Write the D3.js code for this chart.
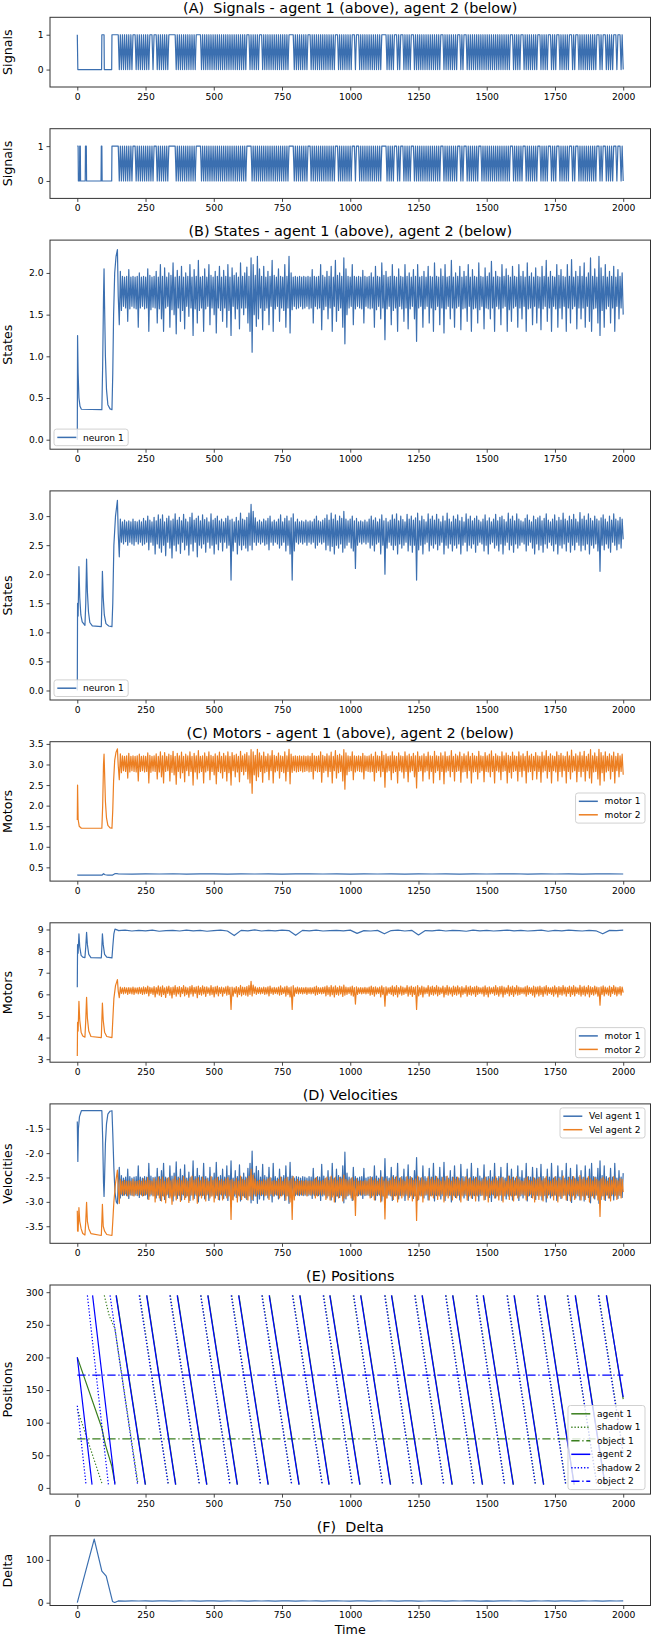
<!DOCTYPE html>
<html>
<head>
<meta charset="utf-8">
<script src="https://cdn.jsdelivr.net/npm/d3@7"></script>
<style>
  body { margin: 0; background: #fff; }
  text { font-family: "DejaVu Sans", sans-serif; fill: #000; }
</style>
</head>
<body>
<svg id="chart" width="651" height="1637"></svg>
<script>
// ---- data (time steps 0..2000) ----
// early transients as [t, value]; dense parts as values sampled evenly from t=150 to t=2000
const TAIL_START = 150, TAIL_END = 2000;
const timeTicks = [0, 250, 500, 750, 1000, 1250, 1500, 1750, 2000];

const sig1Head = [[0,1],[2,0],[89,0],[90,1],[98,1],[99,0],[126,0],[127,1],[150,1]];
const sig1Tail = [
 1,0,1,0,1,0,1,0,1,0,1,0,1,0,1,1,1,0,1,0,
 1,0,1,0,1,0,1,0,1,0,1,1,1,0,1,1,1,0,1,0,
 1,0,1,0,1,0,1,0,1,1,1,1,1,1,1,0,1,0,1,0,
 1,0,1,0,1,0,1,0,1,0,1,0,1,0,1,1,1,1,1,0,
 1,0,1,0,1,0,1,0,1,0,1,0,1,0,1,0,1,0,1,0,
 1,0,1,0,1,0,1,0,1,0,1,0,1,0,1,0,1,0,1,0,
 1,0,1,1,1,0,1,0,1,0,1,0,1,0,1,1,1,0,1,0,
 1,0,1,0,1,0,1,0,1,0,1,0,1,0,1,0,1,0,1,0,
 1,0,1,1,1,1,1,0,1,0,1,0,1,0,1,0,1,0,1,0,
 1,1,1,0,1,0,1,0,1,0,1,0,1,0,1,0,1,0,1,0,
 1,0,1,0,1,0,1,1,1,0,1,0,1,0,1,0,1,0,1,0,
 1,0,1,1,1,0,1,1,1,0,1,0,1,0,1,0,1,0,1,0,
 1,0,1,0,1,0,1,0,1,0,1,1,1,1,1,0,1,0,1,0,
 1,0,1,1,1,0,1,0,1,1,1,0,1,0,1,0,1,0,1,1,
 1,0,1,0,1,0,1,0,1,0,1,0,1,0,1,0,1,0,1,0,
 1,0,1,0,1,0,1,1,1,0,1,0,1,0,1,0,1,0,1,0,
 1,0,1,1,1,0,1,0,1,1,1,0,1,0,1,0,1,0,1,0,
 1,0,1,0,1,0,1,0,1,0,1,0,1,0,1,0,1,0,1,0,
 1,0,1,0,1,0,1,0,1,0,1,0,1,1,1,0,1,0,1,0,
 1,0,1,1,1,0,1,0,1,0,1,0,1,0,1,0,1,0,1,1,
 1,0,1,0,1,0,1,0,1,1,1,0,1,0,1,0,1,1,1,0,
 1,0,1,0,1,0,1,0,1,1,1,0,1,0,1,1,1,0,1,0,
 1,0,1,0,1,0,1,0,1,0,1,0,1,0,1,1,1,0,1,0,
 1,1,1,0,1,0,1,0,1,0,1,1,1,0,1,1,1,0,1,0];

const sig2Head = [[0,1],[3,1],[4,0],[8,0],[9,1],[11,1],[12,0],[29,0],[30,1],[33,1],[34,0],
 [87,0],[88,1],[90,1],[91,0],[126,0],[127,1],[150,1]];
const sig2Tail = [
 1,0,1,0,1,0,1,0,1,0,1,0,1,0,1,1,1,0,1,0,
 1,0,1,0,1,0,1,0,1,0,1,0,1,0,1,1,1,0,1,0,
 1,0,1,0,1,0,1,0,1,1,1,1,1,1,1,0,1,0,1,0,
 1,0,1,0,1,0,1,0,1,0,1,0,1,0,1,1,1,1,1,0,
 1,0,1,0,1,0,1,0,1,0,1,0,1,0,1,0,1,0,1,0,
 1,0,1,0,1,0,1,0,1,0,1,0,1,0,1,0,1,0,1,0,
 1,0,1,1,1,1,1,0,1,0,1,0,1,0,1,0,1,0,1,0,
 1,0,1,0,1,0,1,0,1,0,1,0,1,0,1,0,1,0,1,0,
 1,0,1,1,1,1,1,0,1,0,1,0,1,0,1,0,1,0,1,0,
 1,1,1,0,1,0,1,0,1,0,1,0,1,0,1,0,1,0,1,0,
 1,0,1,0,1,0,1,1,1,0,1,0,1,0,1,0,1,0,1,0,
 1,0,1,1,1,0,1,1,1,0,1,0,1,0,1,0,1,0,1,0,
 1,0,1,0,1,0,1,0,1,0,1,1,1,1,1,0,1,0,1,0,
 1,0,1,1,1,0,1,0,1,1,1,0,1,0,1,0,1,0,1,1,
 1,0,1,0,1,0,1,0,1,0,1,0,1,0,1,0,1,0,1,0,
 1,0,1,0,1,0,1,1,1,0,1,0,1,0,1,0,1,0,1,0,
 1,0,1,1,1,0,1,0,1,1,1,0,1,0,1,0,1,0,1,0,
 1,0,1,1,1,0,1,0,1,0,1,0,1,0,1,0,1,0,1,0,
 1,0,1,0,1,0,1,0,1,0,1,0,1,1,1,0,1,0,1,0,
 1,0,1,0,1,1,1,0,1,0,1,0,1,0,1,0,1,0,1,1,
 1,0,1,0,1,0,1,0,1,1,1,0,1,0,1,0,1,1,1,0,
 1,0,1,0,1,0,1,0,1,1,1,0,1,0,1,1,1,0,1,0,
 1,0,1,0,1,0,1,0,1,0,1,0,1,0,1,1,1,0,1,0,
 1,1,1,0,1,0,1,0,1,0,1,1,1,0,1,1,1,0,1,0];

const state1Head = [[0,0],[1,1.25],[3,0.8],[6,0.5],[10,0.4],[15,0.365],[90,0.36],[93,0.9],[96,1.7],
 [98,2.05],[100,1.6],[103,1.0],[107,0.6],[112,0.42],[120,0.37],[127,0.36],[130,0.8],[133,1.5],
 [137,2.0],[142,2.2],[147,2.28]];
const state1Tail = [
 1.72,1.38,2.02,1.55,1.96,1.6,1.95,1.58,1.96,1.42,2.04,1.57,1.95,1.6,1.96,1.58,1.95,1.57,1.96,1.35,
 2.0,1.58,1.95,1.6,1.96,1.57,1.95,1.58,2.05,1.3,1.97,1.56,1.95,1.59,1.96,1.58,2.02,1.4,1.95,1.57,
 2.1,1.45,1.96,1.3,2.06,1.58,1.95,1.6,2.0,1.35,1.97,1.56,2.12,1.5,1.95,1.27,2.03,1.58,1.96,1.42,
 2.08,1.55,1.95,1.33,2.0,1.6,1.96,1.48,2.1,1.58,1.95,1.25,2.04,1.57,1.96,1.4,2.15,1.55,1.95,1.58,
 1.96,1.3,2.05,1.57,1.95,1.6,2.1,1.38,1.97,1.58,1.95,1.5,2.02,1.28,1.96,1.58,2.08,1.55,1.95,1.42,
 2.03,1.58,1.96,1.35,2.1,1.55,1.95,1.25,2.06,1.6,1.97,1.45,2.0,1.57,1.95,1.33,2.12,1.58,1.96,1.5,
 2.0,1.58,2.07,1.4,1.96,1.3,2.18,1.05,2.1,1.5,1.97,1.36,2.2,1.45,2.05,1.58,1.96,1.32,2.08,1.55,
 1.95,1.58,2.02,1.38,1.96,1.6,2.15,1.3,1.97,1.57,1.95,1.6,2.05,1.42,1.96,1.58,1.95,1.55,2.1,1.35,
 1.96,1.58,2.2,1.28,2.0,1.56,1.95,1.6,1.96,1.57,1.95,1.58,1.96,1.6,1.95,1.57,1.96,1.58,1.95,1.6,
 1.96,1.57,1.95,1.58,2.04,1.4,1.96,1.6,1.95,1.57,1.96,1.58,2.1,1.32,1.97,1.56,1.95,1.6,2.02,1.45,
 1.96,1.58,2.08,1.3,1.95,1.6,2.15,1.42,1.97,1.55,2.0,1.58,1.96,1.35,2.18,1.15,2.05,1.5,1.96,1.58,
 1.95,1.6,2.1,1.38,1.96,1.57,1.95,1.6,1.96,1.58,1.95,1.57,2.03,1.4,1.96,1.6,1.95,1.58,1.96,1.57,
 2.0,1.58,1.95,1.35,2.08,1.56,1.96,1.6,1.95,1.45,2.12,1.58,1.97,1.2,2.02,1.57,1.95,1.6,1.96,1.38,
 2.1,1.55,1.96,1.58,1.95,1.3,2.05,1.6,1.96,1.57,1.95,1.42,2.1,1.58,1.96,1.33,2.0,1.57,1.95,1.6,
 2.04,1.45,1.96,1.18,2.1,1.58,1.95,1.6,1.96,1.35,2.02,1.57,1.95,1.6,2.08,1.4,1.96,1.58,1.95,1.3,
 2.12,1.56,1.96,1.6,1.95,1.38,2.05,1.58,1.96,1.28,2.1,1.57,1.95,1.6,1.96,1.45,2.15,1.58,1.95,1.35,
 2.0,1.58,1.96,1.6,2.08,1.32,1.95,1.57,2.02,1.58,1.96,1.42,2.1,1.6,1.95,1.3,2.04,1.57,1.96,1.58,
 1.95,1.4,2.12,1.56,1.96,1.6,1.95,1.33,2.06,1.58,1.96,1.57,2.0,1.45,2.14,1.58,1.95,1.3,2.02,1.6,
 1.96,1.57,1.95,1.38,2.1,1.58,1.96,1.6,2.05,1.3,1.97,1.56,1.95,1.42,2.08,1.58,1.96,1.6,1.95,1.35,
 2.1,1.58,1.96,1.45,2.02,1.6,1.95,1.3,2.12,1.57,1.96,1.58,2.0,1.38,1.95,1.6,2.06,1.4,1.96,1.58,
 1.95,1.32,2.08,1.57,1.96,1.6,2.15,1.42,1.95,1.58,2.02,1.3,1.96,1.6,1.95,1.57,2.1,1.35,1.97,1.58,
 2.04,1.45,1.96,1.6,1.95,1.3,2.1,1.58,1.96,1.4,2.16,1.57,1.95,1.6,2.02,1.33,1.96,1.58,2.08,1.45,
 1.96,1.58,2.12,1.35,1.95,1.6,2.0,1.42,2.18,1.3,1.96,1.57,2.05,1.58,1.95,1.4,2.2,1.25,2.06,1.55,
 1.96,1.35,2.1,1.57,1.95,1.6,2.02,1.4,1.96,1.58,2.08,1.3,1.95,1.6,2.04,1.45,1.96,1.58,2.0,1.5];

const state2Head = [[0,0],[1,1.5],[3,1.28],[6,2.13],[9,1.6],[13,1.3],[18,1.18],[28,1.12],[31,1.5],
 [34,2.26],[37,1.7],[41,1.35],[46,1.17],[55,1.11],[88,1.1],[90,1.5],[92,2.05],[95,1.6],[99,1.3],
 [105,1.15],[115,1.11],[127,1.1],[130,1.5],[134,2.5],[140,3.0],[147,3.27]];
const state2Tail = [
 2.7,2.3,2.95,2.55,2.9,2.52,2.93,2.56,2.9,2.5,2.92,2.55,2.9,2.52,2.95,2.5,2.91,2.56,2.9,2.52,
 2.93,2.55,2.9,2.5,2.96,2.52,2.92,2.55,3.0,2.42,2.93,2.55,2.9,2.5,2.98,2.35,2.92,2.52,3.02,2.45,
 2.95,2.38,3.02,2.5,2.9,2.32,2.96,2.55,3.0,2.45,2.92,2.28,2.95,2.5,3.04,2.4,2.93,2.52,2.98,2.36,
 2.92,2.55,3.03,2.42,2.95,2.5,2.9,2.33,2.98,2.52,3.05,2.4,2.93,2.55,2.96,2.3,3.0,2.5,2.92,2.45,
 3.02,2.52,2.94,2.38,2.97,2.55,2.9,2.45,3.04,2.5,2.93,2.35,2.96,2.52,3.0,2.42,2.92,2.55,2.95,2.4,
 2.9,2.55,2.96,2.45,3.0,2.5,2.93,1.9,2.95,2.4,2.9,2.55,2.98,2.35,2.92,2.5,3.05,2.42,2.95,2.5,
 2.93,2.45,2.98,2.4,3.05,2.5,3.2,2.42,3.08,2.55,2.97,2.5,2.9,2.55,2.93,2.52,2.9,2.55,2.95,2.5,
 2.92,2.52,2.96,2.42,3.0,2.55,2.9,2.5,2.93,2.55,2.9,2.52,2.95,2.45,3.02,2.5,2.9,2.55,2.96,2.4,
 3.0,2.5,2.92,2.35,2.97,1.9,3.04,2.4,2.9,2.55,2.95,2.52,2.9,2.55,2.92,2.52,2.9,2.55,2.93,2.5,
 2.9,2.55,2.92,2.52,2.9,2.55,2.95,2.45,3.0,2.5,2.92,2.55,2.9,2.52,2.93,2.55,2.96,2.42,3.02,2.5,
 2.93,2.4,3.05,2.48,2.95,2.35,3.02,2.5,2.92,2.45,3.0,2.52,2.96,2.38,3.08,2.45,2.95,2.5,2.92,2.55,
 2.95,2.45,3.0,2.4,2.92,2.1,2.96,2.5,2.9,2.55,2.92,2.52,2.9,2.55,2.93,2.52,2.9,2.55,2.95,2.45,
 3.0,2.5,2.93,2.4,2.97,2.52,2.9,2.55,2.95,2.35,3.02,2.5,2.92,2.0,2.96,2.45,2.9,2.55,2.93,2.5,
 3.02,2.42,2.95,2.5,3.04,2.35,2.92,2.52,3.0,2.45,2.94,2.5,2.9,2.55,3.03,2.4,2.95,2.5,3.0,2.38,
 2.93,2.5,2.97,1.9,3.05,2.42,2.92,2.5,3.0,2.35,2.94,2.52,2.9,2.55,3.04,2.4,2.95,2.5,3.0,2.45,
 2.93,2.52,3.03,2.42,2.95,2.5,2.9,2.55,3.0,2.35,2.92,2.5,3.05,2.45,2.95,2.52,2.9,2.4,3.0,2.5,
 2.95,2.45,3.02,2.52,2.92,2.35,2.98,2.5,2.9,2.55,3.04,2.4,2.95,2.5,3.0,2.45,2.92,2.52,2.96,2.38,
 3.0,2.5,2.93,2.55,2.9,2.52,2.95,2.4,3.02,2.5,2.92,2.35,2.97,2.52,2.9,2.55,2.95,2.45,3.03,2.5,
 2.92,2.4,2.98,2.52,3.0,2.35,2.94,2.5,2.9,2.55,3.05,2.42,2.95,2.5,3.0,2.38,2.92,2.52,3.04,2.45,
 2.95,2.5,2.92,2.55,2.9,2.52,2.96,2.4,3.02,2.5,2.93,2.55,2.9,2.45,3.0,2.35,2.94,2.52,2.97,2.42,
 3.0,2.5,2.92,2.38,2.96,2.52,3.04,2.45,2.93,2.55,2.9,2.5,2.95,2.4,3.02,2.52,2.92,2.35,2.98,2.5,
 2.93,2.45,3.05,2.52,2.95,2.4,2.92,2.55,3.0,2.38,2.94,2.5,3.03,2.42,2.95,2.55,2.9,2.5,3.06,2.4,
 2.95,2.5,3.0,2.42,2.93,2.52,3.04,2.35,2.96,2.5,2.92,2.45,3.0,2.52,2.95,2.4,2.92,2.05,2.97,2.5,
 3.02,2.42,2.95,2.52,2.9,2.45,3.0,2.38,2.93,2.55,3.04,2.5,2.95,2.42,2.92,2.52,2.98,2.45,2.95,2.6];

// agent 1 motors
const motor11Head = [[0,0.32],[3,0.31],[90,0.31],[96,0.345],[102,0.32],[112,0.31],[128,0.31],
 [136,0.34],[142,0.35],[150,0.34]];
const motor11Tail = [
 0.34,0.335,0.342,0.338,0.345,0.336,0.34,0.343,0.337,0.341,0.339,0.344,0.336,0.34,0.342,0.338,0.341,0.335,0.343,0.339,
 0.34,0.337,0.344,0.338,0.341,0.336,0.342,0.339,0.34,0.345,0.337,0.341,0.338,0.343,0.336,0.34,0.342,0.339];
const motor12Head = [[0,1.65],[1,2.5],[3,1.67],[7,1.5],[15,1.45],[90,1.45],[93,2.0],[96,3.0],[98,3.25],
 [100,2.8],[103,2.1],[107,1.7],[112,1.52],[120,1.46],[127,1.45],[130,1.9],[133,2.6],[137,3.1],
 [142,3.3],[147,3.38]];
const motor12Tail = [
 2.97,2.63,3.26,2.8,3.21,2.85,3.2,2.83,3.21,2.67,3.27,2.82,3.2,2.85,3.21,2.83,3.2,2.82,3.21,2.6,
 3.25,2.83,3.2,2.85,3.21,2.82,3.2,2.83,3.28,2.55,3.22,2.81,3.2,2.84,3.21,2.83,3.26,2.65,3.2,2.82,
 3.31,2.7,3.21,2.55,3.29,2.83,3.2,2.85,3.25,2.6,3.22,2.81,3.32,2.75,3.2,2.52,3.27,2.83,3.21,2.67,
 3.3,2.8,3.2,2.58,3.25,2.85,3.21,2.73,3.31,2.83,3.2,2.5,3.27,2.82,3.21,2.65,3.34,2.8,3.2,2.83,
 3.21,2.55,3.28,2.82,3.2,2.85,3.31,2.63,3.22,2.83,3.2,2.75,3.26,2.53,3.21,2.83,3.3,2.8,3.2,2.67,
 3.27,2.83,3.21,2.6,3.31,2.8,3.2,2.5,3.29,2.85,3.22,2.7,3.25,2.82,3.2,2.58,3.32,2.83,3.21,2.75,
 3.25,2.83,3.29,2.65,3.21,2.55,3.36,2.3,3.31,2.75,3.22,2.61,3.37,2.7,3.28,2.83,3.21,2.57,3.3,2.8,
 3.2,2.83,3.26,2.63,3.21,2.85,3.34,2.55,3.22,2.82,3.2,2.85,3.28,2.67,3.21,2.83,3.2,2.8,3.31,2.6,
 3.21,2.83,3.37,2.53,3.25,2.81,3.2,2.85,3.21,2.82,3.2,2.83,3.21,2.85,3.2,2.82,3.21,2.83,3.2,2.85,
 3.21,2.82,3.2,2.83,3.27,2.65,3.21,2.85,3.2,2.82,3.21,2.83,3.31,2.57,3.22,2.81,3.2,2.85,3.26,2.7,
 3.21,2.83,3.3,2.55,3.2,2.85,3.34,2.67,3.22,2.8,3.25,2.83,3.21,2.6,3.36,2.4,3.28,2.75,3.21,2.83,
 3.2,2.85,3.31,2.63,3.21,2.82,3.2,2.85,3.21,2.83,3.2,2.82,3.27,2.65,3.21,2.85,3.2,2.83,3.21,2.82,
 3.25,2.83,3.2,2.6,3.3,2.81,3.21,2.85,3.2,2.7,3.32,2.83,3.22,2.45,3.26,2.82,3.2,2.85,3.21,2.63,
 3.31,2.8,3.21,2.83,3.2,2.55,3.28,2.85,3.21,2.82,3.2,2.67,3.31,2.83,3.21,2.58,3.25,2.82,3.2,2.85,
 3.27,2.7,3.21,2.43,3.31,2.83,3.2,2.85,3.21,2.6,3.26,2.82,3.2,2.85,3.3,2.65,3.21,2.83,3.2,2.55,
 3.32,2.81,3.21,2.85,3.2,2.63,3.28,2.83,3.21,2.53,3.31,2.82,3.2,2.85,3.21,2.7,3.34,2.83,3.2,2.6,
 3.25,2.83,3.21,2.85,3.3,2.57,3.2,2.82,3.26,2.83,3.21,2.67,3.31,2.85,3.2,2.55,3.27,2.82,3.21,2.83,
 3.2,2.65,3.32,2.81,3.21,2.85,3.2,2.58,3.29,2.83,3.21,2.82,3.25,2.7,3.33,2.83,3.2,2.55,3.26,2.85,
 3.21,2.82,3.2,2.63,3.31,2.83,3.21,2.85,3.28,2.55,3.22,2.81,3.2,2.67,3.3,2.83,3.21,2.85,3.2,2.6,
 3.31,2.83,3.21,2.7,3.26,2.85,3.2,2.55,3.32,2.82,3.21,2.83,3.25,2.63,3.2,2.85,3.29,2.65,3.21,2.83,
 3.2,2.57,3.3,2.82,3.21,2.85,3.34,2.67,3.2,2.83,3.26,2.55,3.21,2.85,3.2,2.82,3.31,2.6,3.22,2.83,
 3.27,2.7,3.21,2.85,3.2,2.55,3.31,2.83,3.21,2.65,3.35,2.82,3.2,2.85,3.26,2.58,3.21,2.83,3.3,2.7,
 3.21,2.83,3.32,2.6,3.2,2.85,3.25,2.67,3.36,2.55,3.21,2.82,3.28,2.83,3.2,2.65,3.37,2.5,3.29,2.8,
 3.21,2.6,3.31,2.82,3.2,2.85,3.26,2.65,3.21,2.83,3.3,2.55,3.2,2.85,3.27,2.7,3.21,2.83,3.25,2.75];

// agent 2 motors
const motor21Head = [[0,6.33],[1,8.3],[3,7.9],[6,8.8],[9,8.2],[14,7.8],[20,7.72],[28,7.7],[31,8.2],
 [34,8.87],[37,8.3],[42,7.85],[50,7.7],[88,7.69],[90,8.2],[92,8.8],[95,8.3],[100,7.85],[108,7.72],
 [127,7.69],[130,8.2],[134,8.8],[138,9.02],[150,8.96]];
const motor21Tail = [
 8.95,8.97,8.93,8.96,8.94,8.97,8.92,8.95,8.96,8.93,8.97,8.94,8.96,8.92,8.95,8.97,8.93,8.72,8.96,8.94,
 8.98,8.93,8.96,8.94,8.97,8.95,8.73,8.96,8.94,8.97,8.93,8.95,8.96,8.94,8.97,8.82,8.95,8.93,8.96,8.8,
 8.95,8.97,8.93,8.96,8.75,8.95,8.94,8.97,8.93,8.96,8.95,8.92,8.97,8.94,8.96,8.93,8.95,8.97,8.94,8.96,
 8.93,8.95,8.97,8.92,8.96,8.94,8.97,8.95,8.93,8.96,8.94,8.8,8.96,8.95,8.97];
const motor22Head = [[0,3.15],[1,4.7],[3,4.3],[6,5.68],[9,4.8],[14,4.25],[20,4.07],[28,4.02],[31,4.8],
 [34,5.86],[37,4.9],[42,4.3],[50,4.05],[88,4.0],[90,4.8],[92,5.6],[95,4.8],[100,4.25],[108,4.05],
 [127,4.0],[130,4.8],[134,5.8],[140,6.4],[147,6.68]];
const motor22Tail = [
 6.15,5.85,6.34,6.04,6.3,6.02,6.32,6.05,6.3,6.0,6.31,6.04,6.3,6.02,6.34,6.0,6.3,6.05,6.3,6.02,
 6.32,6.04,6.3,6.0,6.35,6.02,6.31,6.04,6.38,5.93,6.32,6.04,6.3,6.0,6.36,5.88,6.31,6.02,6.39,5.96,
 6.34,5.9,6.39,6.0,6.3,5.86,6.35,6.04,6.38,5.96,6.31,5.83,6.34,6.0,6.4,5.92,6.32,6.02,6.36,5.89,
 6.31,6.04,6.4,5.93,6.34,6.0,6.3,5.87,6.36,6.02,6.41,5.92,6.32,6.04,6.35,5.85,6.38,6.0,6.31,5.96,
 6.39,6.02,6.33,5.9,6.35,6.04,6.3,5.96,6.4,6.0,6.32,5.88,6.35,6.02,6.38,5.93,6.31,6.04,6.34,5.92,
 6.3,6.04,6.35,5.96,6.38,6.0,6.32,5.3,6.34,5.92,6.3,6.04,6.36,5.88,6.31,6.0,6.41,5.93,6.34,6.0,
 6.32,5.96,6.36,5.92,6.41,6.0,6.6,5.93,6.43,6.04,6.35,6.0,6.3,6.04,6.32,6.02,6.3,6.04,6.34,6.0,
 6.31,6.02,6.35,5.93,6.38,6.04,6.3,6.0,6.32,6.04,6.3,6.02,6.34,5.96,6.39,6.0,6.3,6.04,6.35,5.92,
 6.38,6.0,6.31,5.88,6.35,5.3,6.4,5.92,6.3,6.04,6.34,6.02,6.3,6.04,6.31,6.02,6.3,6.04,6.32,6.0,
 6.3,6.04,6.31,6.02,6.3,6.04,6.34,5.96,6.38,6.0,6.31,6.04,6.3,6.02,6.32,6.04,6.35,5.93,6.39,6.0,
 6.32,5.92,6.41,5.98,6.34,5.88,6.39,6.0,6.31,5.96,6.38,6.02,6.35,5.9,6.43,5.96,6.34,6.0,6.31,6.04,
 6.34,5.96,6.38,5.92,6.31,5.55,6.35,6.0,6.3,6.04,6.31,6.02,6.3,6.04,6.32,6.02,6.3,6.04,6.34,5.96,
 6.38,6.0,6.32,5.92,6.35,6.02,6.3,6.04,6.34,5.88,6.39,6.0,6.31,5.45,6.35,5.96,6.3,6.04,6.32,6.0,
 6.39,5.93,6.34,6.0,6.4,5.88,6.31,6.02,6.38,5.96,6.33,6.0,6.3,6.04,6.4,5.92,6.34,6.0,6.38,5.9,
 6.32,6.0,6.35,5.3,6.41,5.93,6.31,6.0,6.38,5.88,6.33,6.02,6.3,6.04,6.4,5.92,6.34,6.0,6.38,5.96,
 6.32,6.02,6.4,5.93,6.34,6.0,6.3,6.04,6.38,5.88,6.31,6.0,6.41,5.96,6.34,6.02,6.3,5.92,6.38,6.0,
 6.34,5.96,6.39,6.02,6.31,5.88,6.36,6.0,6.3,6.04,6.4,5.92,6.34,6.0,6.38,5.96,6.31,6.02,6.35,5.9,
 6.38,6.0,6.32,6.04,6.3,6.02,6.34,5.92,6.39,6.0,6.31,5.88,6.35,6.02,6.3,6.04,6.34,5.96,6.4,6.0,
 6.31,5.92,6.36,6.02,6.38,5.88,6.33,6.0,6.3,6.04,6.41,5.93,6.34,6.0,6.38,5.9,6.31,6.02,6.4,5.96,
 6.34,6.0,6.31,6.04,6.3,6.02,6.35,5.92,6.39,6.0,6.32,6.04,6.3,5.96,6.38,5.88,6.33,6.02,6.35,5.93,
 6.38,6.0,6.31,5.9,6.35,6.02,6.4,5.96,6.32,6.04,6.3,6.0,6.34,5.92,6.39,6.02,6.31,5.88,6.36,6.0,
 6.32,5.96,6.41,6.02,6.34,5.92,6.31,6.04,6.38,5.9,6.33,6.0,6.4,5.93,6.34,6.04,6.3,6.0,6.42,5.92,
 6.34,6.0,6.38,5.93,6.32,6.02,6.4,5.88,6.35,6.0,6.31,5.96,6.38,6.02,6.34,5.92,6.31,5.5,6.35,6.0,
 6.39,5.93,6.34,6.02,6.3,5.96,6.38,5.9,6.32,6.04,6.4,6.0,6.34,5.93,6.31,6.02,6.36,5.96,6.34,6.08];

const vel1Head = [[0,-1.35],[2,-2.17],[4,-1.5],[8,-1.25],[15,-1.13],[90,-1.13],[93,-1.7],[96,-2.6],
 [98,-2.89],[100,-2.5],[103,-1.8],[107,-1.4],[112,-1.2],[120,-1.14],[127,-1.13],[130,-1.6],
 [134,-2.3],[138,-2.8],[143,-3.0],[147,-3.04]];
const vel1Tail = [
 -2.63,-2.29,-2.92,-2.46,-2.87,-2.51,-2.86,-2.49,-2.87,-2.33,-2.93,-2.48,-2.86,-2.51,-2.87,-2.49,-2.86,-2.48,-2.87,-2.26,
 -2.91,-2.49,-2.86,-2.51,-2.87,-2.48,-2.86,-2.49,-2.94,-2.21,-2.88,-2.47,-2.86,-2.5,-2.87,-2.49,-2.92,-2.31,-2.86,-2.48,
 -2.97,-2.36,-2.87,-2.21,-2.95,-2.49,-2.86,-2.51,-2.91,-2.26,-2.88,-2.47,-2.98,-2.41,-2.86,-2.18,-2.93,-2.49,-2.87,-2.33,
 -2.96,-2.46,-2.86,-2.24,-2.91,-2.51,-2.87,-2.39,-2.97,-2.49,-2.86,-2.16,-2.93,-2.48,-2.87,-2.31,-3.0,-2.46,-2.86,-2.49,
 -2.87,-2.21,-2.94,-2.48,-2.86,-2.51,-2.97,-2.29,-2.88,-2.49,-2.86,-2.41,-2.92,-2.19,-2.87,-2.49,-2.96,-2.46,-2.86,-2.33,
 -2.93,-2.49,-2.87,-2.26,-2.97,-2.46,-2.86,-2.16,-2.95,-2.51,-2.88,-2.36,-2.91,-2.48,-2.86,-2.24,-2.98,-2.49,-2.87,-2.41,
 -2.91,-2.49,-2.95,-2.31,-2.87,-2.21,-3.02,-1.96,-2.97,-2.41,-2.88,-2.27,-3.03,-2.36,-2.94,-2.49,-2.87,-2.23,-2.96,-2.46,
 -2.86,-2.49,-2.92,-2.29,-2.87,-2.51,-3.0,-2.21,-2.88,-2.48,-2.86,-2.51,-2.94,-2.33,-2.87,-2.49,-2.86,-2.46,-2.97,-2.26,
 -2.87,-2.49,-3.03,-2.19,-2.91,-2.47,-2.86,-2.51,-2.87,-2.48,-2.86,-2.49,-2.87,-2.51,-2.86,-2.48,-2.87,-2.49,-2.86,-2.51,
 -2.87,-2.48,-2.86,-2.49,-2.93,-2.31,-2.87,-2.51,-2.86,-2.48,-2.87,-2.49,-2.97,-2.23,-2.88,-2.47,-2.86,-2.51,-2.92,-2.36,
 -2.87,-2.49,-2.96,-2.21,-2.86,-2.51,-3.0,-2.33,-2.88,-2.46,-2.91,-2.49,-2.87,-2.26,-3.02,-1.98,-2.94,-2.41,-2.87,-2.49,
 -2.86,-2.51,-2.97,-2.29,-2.87,-2.48,-2.86,-2.51,-2.87,-2.49,-2.86,-2.48,-2.93,-2.31,-2.87,-2.51,-2.86,-2.49,-2.87,-2.48,
 -2.91,-2.49,-2.86,-2.26,-2.96,-2.47,-2.87,-2.51,-2.86,-2.36,-2.98,-2.49,-2.88,-2.11,-2.92,-2.48,-2.86,-2.51,-2.87,-2.29,
 -2.97,-2.46,-2.87,-2.49,-2.86,-2.21,-2.94,-2.51,-2.87,-2.48,-2.86,-2.33,-2.97,-2.49,-2.87,-2.24,-2.91,-2.48,-2.86,-2.51,
 -2.93,-2.36,-2.87,-2.09,-2.97,-2.49,-2.86,-2.51,-2.87,-2.26,-2.92,-2.48,-2.86,-2.51,-2.96,-2.31,-2.87,-2.49,-2.86,-2.21,
 -2.98,-2.47,-2.87,-2.51,-2.86,-2.29,-2.94,-2.49,-2.87,-2.19,-2.97,-2.48,-2.86,-2.51,-2.87,-2.36,-3.0,-2.49,-2.86,-2.26,
 -2.91,-2.49,-2.87,-2.51,-2.96,-2.23,-2.86,-2.48,-2.92,-2.49,-2.87,-2.33,-2.97,-2.51,-2.86,-2.21,-2.93,-2.48,-2.87,-2.49,
 -2.86,-2.31,-2.98,-2.47,-2.87,-2.51,-2.86,-2.24,-2.95,-2.49,-2.87,-2.48,-2.91,-2.36,-2.99,-2.49,-2.86,-2.21,-2.92,-2.51,
 -2.87,-2.48,-2.86,-2.29,-2.97,-2.49,-2.87,-2.51,-2.94,-2.21,-2.88,-2.47,-2.86,-2.33,-2.96,-2.49,-2.87,-2.51,-2.86,-2.26,
 -2.97,-2.49,-2.87,-2.36,-2.92,-2.51,-2.86,-2.21,-2.98,-2.48,-2.87,-2.49,-2.91,-2.29,-2.86,-2.51,-2.95,-2.31,-2.87,-2.49,
 -2.86,-2.23,-2.96,-2.48,-2.87,-2.51,-3.0,-2.33,-2.86,-2.49,-2.92,-2.21,-2.87,-2.51,-2.86,-2.48,-2.97,-2.26,-2.88,-2.49,
 -2.93,-2.36,-2.87,-2.51,-2.86,-2.21,-2.97,-2.49,-2.87,-2.31,-3.01,-2.48,-2.86,-2.51,-2.92,-2.24,-2.87,-2.49,-2.96,-2.36,
 -2.87,-2.49,-2.98,-2.26,-2.86,-2.51,-2.91,-2.33,-3.02,-2.21,-2.87,-2.48,-2.94,-2.49,-2.86,-2.31,-3.03,-2.16,-2.95,-2.46,
 -2.87,-2.26,-2.97,-2.48,-2.86,-2.51,-2.92,-2.31,-2.87,-2.49,-2.96,-2.21,-2.86,-2.51,-2.93,-2.36,-2.87,-2.49,-2.91,-2.41];

const vel2Head = [[0,-3.18],[1,-3.6],[3,-3.6],[6,-3.12],[9,-3.4],[14,-3.55],[20,-3.65],[28,-3.68],
 [31,-3.4],[34,-3.01],[37,-3.4],[42,-3.55],[50,-3.65],[88,-3.69],[90,-3.4],[92,-3.05],[95,-3.5],
 [100,-3.6],[108,-3.67],[127,-3.69],[130,-3.4],[134,-3.0],[140,-2.62],[147,-2.35]];
const vel2Tail = [
 -2.73,-3.03,-2.54,-2.84,-2.58,-2.86,-2.56,-2.83,-2.58,-2.88,-2.57,-2.84,-2.58,-2.86,-2.54,-2.88,-2.58,-2.83,-2.58,-2.86,
 -2.56,-2.84,-2.58,-2.88,-2.53,-2.86,-2.57,-2.84,-2.5,-2.95,-2.56,-2.84,-2.58,-2.88,-2.52,-3.0,-2.57,-2.86,-2.49,-2.92,
 -2.54,-2.98,-2.49,-2.88,-2.58,-3.02,-2.53,-2.84,-2.5,-2.92,-2.57,-3.05,-2.54,-2.88,-2.48,-2.96,-2.56,-2.86,-2.52,-2.99,
 -2.57,-2.84,-2.48,-2.95,-2.54,-2.88,-2.58,-3.01,-2.52,-2.86,-2.47,-2.96,-2.56,-2.84,-2.53,-3.03,-2.5,-2.88,-2.57,-2.92,
 -2.49,-2.86,-2.55,-2.98,-2.53,-2.84,-2.58,-2.92,-2.48,-2.88,-2.56,-3.0,-2.53,-2.86,-2.5,-2.95,-2.57,-2.84,-2.54,-2.96,
 -2.58,-2.84,-2.53,-2.92,-2.5,-2.88,-2.56,-3.36,-2.54,-2.96,-2.58,-2.84,-2.52,-3.0,-2.57,-2.88,-2.47,-2.95,-2.54,-2.88,
 -2.56,-2.92,-2.52,-2.96,-2.47,-2.88,-2.33,-2.95,-2.45,-2.84,-2.53,-2.88,-2.58,-2.84,-2.56,-2.86,-2.58,-2.84,-2.54,-2.88,
 -2.57,-2.86,-2.53,-2.95,-2.5,-2.84,-2.58,-2.88,-2.56,-2.84,-2.58,-2.86,-2.54,-2.92,-2.49,-2.88,-2.58,-2.84,-2.53,-2.96,
 -2.5,-2.88,-2.57,-3.0,-2.53,-3.36,-2.48,-2.96,-2.58,-2.84,-2.54,-2.86,-2.58,-2.84,-2.57,-2.86,-2.58,-2.84,-2.56,-2.88,
 -2.58,-2.84,-2.57,-2.86,-2.58,-2.84,-2.54,-2.92,-2.5,-2.88,-2.57,-2.84,-2.58,-2.86,-2.56,-2.84,-2.53,-2.95,-2.49,-2.88,
 -2.56,-2.96,-2.47,-2.9,-2.54,-3.0,-2.49,-2.88,-2.57,-2.92,-2.5,-2.86,-2.53,-2.98,-2.45,-2.92,-2.54,-2.88,-2.57,-2.84,
 -2.54,-2.92,-2.5,-2.96,-2.57,-3.28,-2.53,-2.88,-2.58,-2.84,-2.57,-2.86,-2.58,-2.84,-2.56,-2.86,-2.58,-2.84,-2.54,-2.92,
 -2.5,-2.88,-2.56,-2.96,-2.53,-2.86,-2.58,-2.84,-2.54,-3.0,-2.49,-2.88,-2.57,-3.35,-2.53,-2.92,-2.58,-2.84,-2.56,-2.88,
 -2.49,-2.95,-2.54,-2.88,-2.48,-3.0,-2.57,-2.86,-2.5,-2.92,-2.55,-2.88,-2.58,-2.84,-2.48,-2.96,-2.54,-2.88,-2.5,-2.98,
 -2.56,-2.88,-2.53,-3.38,-2.47,-2.95,-2.57,-2.88,-2.5,-3.0,-2.55,-2.86,-2.58,-2.84,-2.48,-2.96,-2.54,-2.88,-2.5,-2.92,
 -2.56,-2.86,-2.48,-2.95,-2.54,-2.88,-2.58,-2.84,-2.5,-3.0,-2.57,-2.88,-2.47,-2.92,-2.54,-2.86,-2.58,-2.96,-2.5,-2.88,
 -2.54,-2.92,-2.49,-2.86,-2.57,-3.0,-2.52,-2.88,-2.58,-2.84,-2.48,-2.96,-2.54,-2.88,-2.5,-2.92,-2.57,-2.86,-2.53,-2.98,
 -2.5,-2.88,-2.56,-2.84,-2.58,-2.86,-2.54,-2.96,-2.49,-2.88,-2.57,-3.0,-2.53,-2.86,-2.58,-2.84,-2.54,-2.92,-2.48,-2.88,
 -2.57,-2.96,-2.52,-2.86,-2.5,-3.0,-2.55,-2.88,-2.58,-2.84,-2.47,-2.95,-2.54,-2.88,-2.5,-2.98,-2.57,-2.86,-2.48,-2.92,
 -2.54,-2.88,-2.57,-2.84,-2.58,-2.86,-2.53,-2.96,-2.49,-2.88,-2.56,-2.84,-2.58,-2.92,-2.5,-3.0,-2.55,-2.86,-2.53,-2.95,
 -2.5,-2.88,-2.57,-2.98,-2.53,-2.86,-2.48,-2.92,-2.56,-2.84,-2.58,-2.88,-2.54,-2.96,-2.49,-2.86,-2.57,-3.0,-2.52,-2.88,
 -2.56,-2.92,-2.47,-2.86,-2.54,-2.96,-2.57,-2.84,-2.5,-2.98,-2.55,-2.88,-2.48,-2.95,-2.54,-2.84,-2.58,-2.88,-2.46,-2.96,
 -2.54,-2.88,-2.5,-2.95,-2.56,-2.86,-2.48,-3.0,-2.53,-2.88,-2.57,-2.92,-2.5,-2.86,-2.54,-2.96,-2.57,-3.3,-2.53,-2.88,
 -2.49,-2.95,-2.54,-2.86,-2.58,-2.92,-2.5,-2.98,-2.56,-2.84,-2.48,-2.88,-2.54,-2.95,-2.57,-2.86,-2.52,-2.92,-2.54,-2.8];

// positions: [t, position] vertices, null where the position wraps round
const agent1Pos = [[0,200],[89,93],[103,66],[126,34],[138,7],null,
 [143,295],[250,5],null,[255,295],[361,5],null,[367,295],[475,5],null,[479,295],[587,5],null,
 [592,295],[700,5],null,[704,295],[813,5],null,[816,295],[923,5],null,[926,295],[1036,5],null,
 [1039,295],[1148,5],null,[1152,295],[1262,5],null,[1264,295],[1374,5],null,[1376,295],[1485,5],null,
 [1488,295],[1598,5],null,[1601,295],[1709,5],null,[1713,295],[1821,5],null,[1825,295],[1934,5],null,
 [1939,295],[2000,136]];
const shadow1Pos = [[0,121],[91,6],null,[99,295],[117,264],[138,244],[222,7],null,
 [229,295],[334,5],null,[341,295],[448,5],null,[453,295],[560,5],null,[566,295],[672,5],null,
 [678,295],[786,5],null,[790,295],[898,5],null,[903,295],[1008,5],null,[1011,295],[1119,5],null,
 [1128,295],[1231,5],null,[1238,295],[1343,5],null,[1351,295],[1454,5],null,[1464,295],[1566,5],null,
 [1576,295],[1679,5],null,[1687,295],[1790,5],null,[1795,295],[1904,5],null,[1911,295],[2000,55]];
const object1Pos = [[0,75],[2000,75]];
const agent2Pos = [[0,200],[54,5],null,[56,295],[138,5],null,
 [142,295],[249,5],null,[254,295],[360,5],null,[366,295],[474,5],null,[478,295],[586,5],null,
 [591,295],[699,5],null,[703,295],[812,5],null,[815,295],[922,5],null,[925,295],[1035,5],null,
 [1038,295],[1147,5],null,[1151,295],[1261,5],null,[1263,295],[1373,5],null,[1375,295],[1484,5],null,
 [1487,295],[1597,5],null,[1600,295],[1708,5],null,[1712,295],[1820,5],null,[1824,295],[1933,5],null,
 [1938,295],[2000,139]];
const shadow2Pos = [[0,126],[32,5],null,[37,295],[114,5],null,
 [120,295],[221,5],null,[227,295],[333,5],null,[339,295],[447,5],null,[452,295],[559,5],null,
 [564,295],[671,5],null,[676,295],[785,5],null,[788,295],[897,5],null,[901,295],[1007,5],null,
 [1013,295],[1118,5],null,[1126,295],[1230,5],null,[1236,295],[1342,5],null,[1349,295],[1453,5],null,
 [1462,295],[1565,5],null,[1574,295],[1678,5],null,[1685,295],[1789,5],null,[1797,295],[1903,5],null,
 [1909,295],[2000,52]];
const object2Pos = [[0,173],[2000,173]];

const deltaHead = [[0,0],[62,148.5],[90,74],[106,62],[129,3],[137,0.5],[150,4]];
const deltaTail = [
 4.1,3.9,4.3,4.0,4.2,3.8,4.1,4.4,3.9,4.2,4.0,4.3,3.8,4.1,4.2,3.9,4.4,4.0,4.1,3.8,
 4.3,4.0,4.2,3.9,4.1,4.4,3.8,4.2,4.0,4.3,3.9,4.1,4.2,4.0,3.8,4.3,4.1,3.9,4.2,4.0,
 4.4,3.9,4.1,4.2,3.8,4.0,4.3,4.1,3.9,4.2,4.0,4.1,4.4,3.9,4.2,3.8,4.1,4.3,4.0,4.2,
 3.9,4.1,4.0,4.3,3.8,4.2,4.1,3.9,4.4,4.0,4.2,3.9,4.1,4.0,4.2];

// ---- drawing ----
const BLUE = '#3b6fb0', ORANGE = '#ec7f22', G = '#3a7f1e', B = '#0000ff';
const DOT = '1.3,1.9', DASHDOT = '8.3,2.7,1.3,2.7';

function series(head, tail) {
  const n = tail.length;
  return head.concat(tail.map((v, i) => [TAIL_START + i * (TAIL_END - TAIL_START) / (n - 1), v]));
}

const svg = d3.select('#chart');
const left = 50, right = 650.5;
const x = d3.scaleLinear().domain([-100, 2100]).range([left, right]);

const unit = 69.7, gap = 41.7;
const heights = [1, 1, 3, 3, 2, 2, 2, 3, 1];
let cursor = 17.3;
const boxes = heights.map(h => { const b = {top: cursor, bottom: cursor + h * unit}; cursor = b.bottom + gap; return b; });

const f1 = d => d.toFixed(1), f0 = d => String(d);
const panels = [
  {title: '(A)  Signals - agent 1 (above), agent 2 (below)', label: 'Signals', domain: [-0.5, 1.5], ticks: [0, 1], fmt: f0,
   lines: [{data: series(sig1Head, sig1Tail), color: BLUE}]},
  {label: 'Signals', domain: [-0.5, 1.5], ticks: [0, 1], fmt: f0,
   lines: [{data: series(sig2Head, sig2Tail), color: BLUE}]},
  {title: '(B) States - agent 1 (above), agent 2 (below)', label: 'States', domain: [-0.114, 2.394],
   ticks: [0, 0.5, 1, 1.5, 2], fmt: f1,
   lines: [{data: series(state1Head, state1Tail), color: BLUE, name: 'neuron 1'}], legend: 'lower left'},
  {label: 'States', domain: [-0.1635, 3.4335], ticks: [0, 0.5, 1, 1.5, 2, 2.5, 3], fmt: f1,
   lines: [{data: series(state2Head, state2Tail), color: BLUE, name: 'neuron 1'}], legend: 'lower left'},
  {title: '(C) Motors - agent 1 (above), agent 2 (below)', label: 'Motors', domain: [0.166, 3.554],
   ticks: [0.5, 1, 1.5, 2, 2.5, 3, 3.5], fmt: f1,
   lines: [{data: series(motor11Head, motor11Tail), color: BLUE, name: 'motor 1'},
           {data: series(motor12Head, motor12Tail), color: ORANGE, name: 'motor 2'}], legend: {top: 793}},
  {label: 'Motors', domain: [2.86, 9.31], ticks: [3, 4, 5, 6, 7, 8, 9], fmt: f0,
   lines: [{data: series(motor21Head, motor21Tail), color: BLUE, name: 'motor 1'},
           {data: series(motor22Head, motor22Tail), color: ORANGE, name: 'motor 2'}], legend: 'lower right'},
  {title: '(D) Velocities', label: 'Velocities', domain: [-3.85, -0.99], ticks: [-3.5, -3, -2.5, -2, -1.5], fmt: f1,
   lines: [{data: series(vel1Head, vel1Tail), color: BLUE, name: 'Vel agent 1'},
           {data: series(vel2Head, vel2Tail), color: ORANGE, name: 'Vel agent 2'}], legend: 'upper right'},
  {title: '(E) Positions', label: 'Positions', domain: [-9.5, 311], ticks: [0, 50, 100, 150, 200, 250, 300], fmt: f0,
   lines: [{data: agent1Pos, color: G, name: 'agent 1'},
           {data: shadow1Pos, color: G, dash: DOT, name: 'shadow 1'},
           {data: object1Pos, color: G, dash: DASHDOT, name: 'object 1'},
           {data: agent2Pos, color: B, name: 'agent 2'},
           {data: shadow2Pos, color: B, dash: DOT, name: 'shadow 2'},
           {data: object2Pos, color: B, dash: DASHDOT, name: 'object 2'}], legend: 'lower right'},
  {title: '(F)  Delta', label: 'Delta', domain: [-6.5, 156.3], ticks: [0, 100], fmt: f0,
   lines: [{data: series(deltaHead, deltaTail), color: BLUE}]}
];

panels.forEach((p, i) => {
  const box = boxes[i];
  const y = d3.scaleLinear().domain(p.domain).range([box.bottom, box.top]);
  const g = svg.append('g');

  const clipId = 'clip' + i;
  svg.append('clipPath').attr('id', clipId).append('rect')
    .attr('x', left).attr('y', box.top).attr('width', right - left).attr('height', box.bottom - box.top);

  const line = d3.line().defined(d => d != null).x(d => x(d[0])).y(d => y(d[1]));
  const plot = g.append('g').attr('clip-path', `url(#${clipId})`);
  p.lines.forEach(s => {
    plot.append('path')
      .attr('d', line(s.data))
      .attr('fill', 'none')
      .attr('stroke', s.color)
      .attr('stroke-width', 1.2)
      .attr('stroke-linejoin', 'round')
      .attr('stroke-dasharray', s.dash || null);
  });

  // axes
  const xAxis = d3.axisBottom(x).tickValues(timeTicks).tickFormat(f0).tickSizeOuter(0).tickSize(3.5).tickPadding(2.5);
  const yAxis = d3.axisLeft(y).tickValues(p.ticks).tickFormat(p.fmt).tickSizeOuter(0).tickSize(3.5).tickPadding(3);
  const gx = g.append('g').attr('transform', `translate(0,${box.bottom})`).call(xAxis);
  const gy = g.append('g').attr('transform', `translate(${left},0)`).call(yAxis);
  [gx, gy].forEach(a => {
    a.select('.domain').remove();
    a.selectAll('line').attr('stroke', '#333').attr('stroke-width', 0.9);
    a.selectAll('text').style('font-size', '9.2px').attr('fill', '#000');
  });

  g.append('rect')
    .attr('x', left).attr('y', box.top)
    .attr('width', right - left).attr('height', box.bottom - box.top)
    .attr('fill', 'none').attr('stroke', '#333').attr('stroke-width', 1);

  g.append('text')
    .attr('transform', `translate(11.5,${(box.top + box.bottom) / 2}) rotate(-90)`)
    .attr('text-anchor', 'middle')
    .style('font-size', '12.7px')
    .text(p.label);

  if (p.title) {
    g.append('text')
      .attr('x', (left + right) / 2).attr('y', box.top - 4)
      .attr('text-anchor', 'middle')
      .style('font-size', '14.4px')
      .style('white-space', 'pre')
      .text(p.title);
  }

  if (p.legend) {
    const items = p.lines.filter(s => s.name);
    const lg = g.append('g');
    const rowH = 13.5;
    const h = items.length * rowH + 3.1;
    const bg = lg.append('rect');
    const labels = items.map((s, k) => lg.append('text')
      .attr('x', 29).attr('y', 1.55 + rowH * (k + 0.5)).attr('dy', '0.35em')
      .style('font-size', '9.1px').text(s.name));
    items.forEach((s, k) => {
      lg.append('line')
        .attr('x1', 3.3).attr('x2', 22.3)
        .attr('y1', 1.55 + rowH * (k + 0.5)).attr('y2', 1.55 + rowH * (k + 0.5))
        .attr('stroke', s.color).attr('stroke-width', 1.5)
        .attr('stroke-dasharray', s.dash || null);
    });
    const tw = d3.max(labels, t => t.node().getComputedTextLength());
    const w = 29 + tw + 4.5;
    bg.attr('width', w).attr('height', h).attr('rx', 2.5)
      .attr('fill', '#fff').attr('fill-opacity', 0.8)
      .attr('stroke', '#ccc').attr('stroke-width', 0.9);
    let lx, ly;
    if (p.legend === 'lower left') { lx = left + 4; ly = box.bottom - 3.5 - h; }
    else if (p.legend === 'lower right') { lx = right - 5.5 - w; ly = box.bottom - 4.5 - h; }
    else if (p.legend === 'upper right') { lx = right - 5.5 - w; ly = box.top + 4; }
    else { lx = right - 5.5 - w; ly = p.legend.top; }
    lg.attr('transform', `translate(${lx},${ly})`);
  }
});

svg.append('text')
  .attr('x', (left + right) / 2).attr('y', boxes[8].bottom + 28.5)
  .attr('text-anchor', 'middle')
  .style('font-size', '12.7px')
  .text('Time');
</script>
</body>
</html>
